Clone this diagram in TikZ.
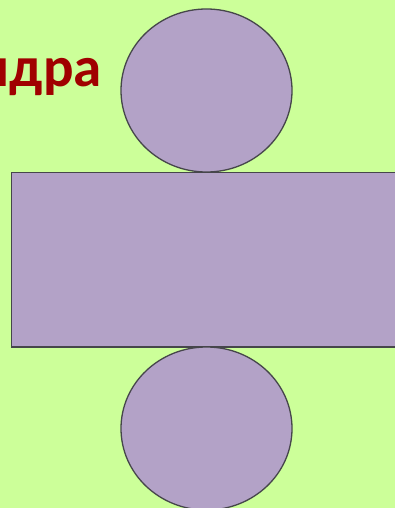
\documentclass[tikz,border=0pt]{standalone}
\usepackage{fontspec}
\setmainfont{Carlito}
\definecolor{bggreen}{RGB}{204,255,153}
\definecolor{lav}{RGB}{179,162,199}
\definecolor{edge}{RGB}{70,70,75}
\definecolor{titlered}{RGB}{160,0,0}
\begin{document}
\begin{tikzpicture}[x=1pt,y=-1pt,
  netface/.style={fill=lav,draw=edge,line width=1.3pt},
  titletext/.style={text=titlered,font=\bfseries\fontsize{57}{60}\selectfont,inner sep=0pt}]
\useasboundingbox (0,0) rectangle (395,508);
\fill[bggreen] (0,0) rectangle (395,508);
\path[netface] (11.5,172.5) rectangle (400,347);
\coordinate (side) at (203,260);
\path[netface] (206.5,90.5) ellipse [x radius=85.5,y radius=81.5];
\coordinate (topc) at (206.5,90.5);
\path[netface] (206.5,428.5) ellipse [x radius=85.5,y radius=81.5];
\coordinate (botc) at (206.5,428.5);
\node[titletext,anchor=base east] (title) at (102,87) {ндра};
\end{tikzpicture}
\end{document}
